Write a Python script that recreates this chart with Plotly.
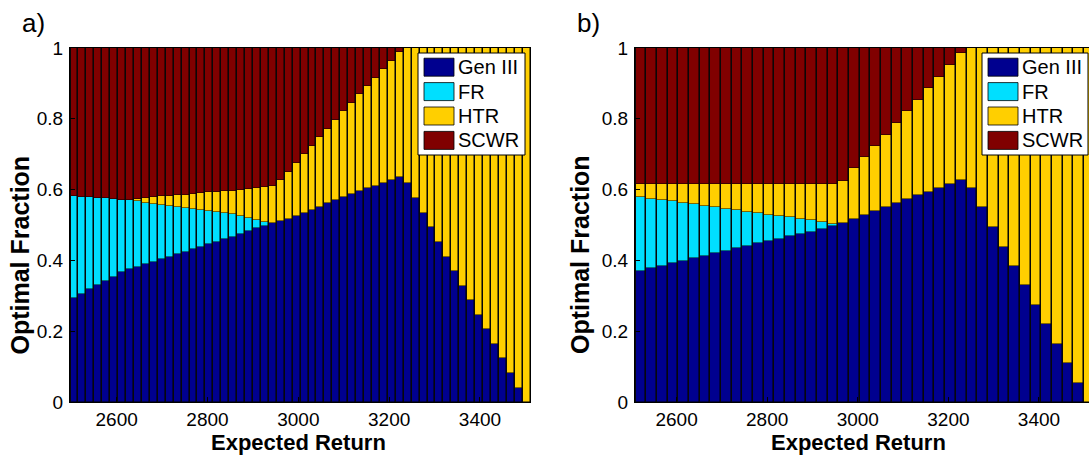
import plotly.graph_objects as go

# ---------------- data ----------------
series_names = ["Gen III", "FR", "HTR", "SCWR"]

returns_a = [2506.0, 2523.5, 2540.9, 2558.4, 2575.9, 2593.4, 2610.8, 2628.3, 2645.8, 2663.2,
             2680.7, 2698.2, 2715.6, 2733.1, 2750.6, 2768.1, 2785.5, 2803.0, 2820.5, 2837.9,
             2855.4, 2872.9, 2890.3, 2907.8, 2925.3, 2942.8, 2960.2, 2977.7, 2995.2, 3012.6,
             3030.1, 3047.6, 3065.0, 3082.5, 3100.0, 3117.5, 3134.9, 3152.4, 3169.9, 3187.3,
             3204.8, 3222.3, 3239.7, 3257.2, 3274.7, 3292.2, 3309.6, 3327.1, 3344.6, 3362.0,
             3379.5, 3397.0, 3414.4, 3431.9, 3449.4, 3466.9, 3484.3, 3501.8]

gen_a = [0.293, 0.305, 0.318, 0.331, 0.343, 0.354, 0.366, 0.376, 0.382, 0.389,
         0.396, 0.403, 0.411, 0.417, 0.425, 0.432, 0.439, 0.446, 0.453, 0.461,
         0.467, 0.475, 0.483, 0.491, 0.497, 0.505, 0.511, 0.518, 0.526, 0.535,
         0.543, 0.552, 0.561, 0.570, 0.579, 0.588, 0.596, 0.604, 0.611, 0.620,
         0.627, 0.637, 0.618, 0.575, 0.535, 0.493, 0.452, 0.410, 0.370, 0.329,
         0.287, 0.246, 0.205, 0.164, 0.123, 0.081, 0.040, 0.000]

fr_a = [0.289, 0.275, 0.260, 0.246, 0.232, 0.219, 0.206, 0.194, 0.185, 0.174,
        0.164, 0.154, 0.143, 0.135, 0.124, 0.114, 0.104, 0.094, 0.084, 0.073,
        0.064, 0.051, 0.036, 0.023, 0.012, 0, 0, 0, 0, 0,
        0, 0, 0, 0, 0, 0, 0, 0, 0, 0,
        0, 0, 0, 0, 0, 0, 0, 0, 0, 0,
        0, 0, 0, 0, 0, 0, 0, 0]

htr_a = [0, 0, 0, 0, 0, 0, 0, 0, 0.007, 0.014,
         0.019, 0.024, 0.029, 0.032, 0.037, 0.042, 0.047, 0.052, 0.056, 0.061,
         0.066, 0.074, 0.083, 0.091, 0.099, 0.105, 0.116, 0.133, 0.150, 0.165,
         0.180, 0.196, 0.211, 0.227, 0.242, 0.256, 0.273, 0.288, 0.304, 0.320,
         0.337, 0.351, 0.382, 0.425, 0.465, 0.507, 0.548, 0.590, 0.630, 0.671,
         0.713, 0.754, 0.795, 0.836, 0.877, 0.919, 0.960, 1.000]

scwr_a = [0.418, 0.420, 0.422, 0.423, 0.425, 0.427, 0.428, 0.430, 0.426, 0.423,
          0.421, 0.419, 0.417, 0.416, 0.414, 0.412, 0.410, 0.408, 0.407, 0.405,
          0.403, 0.400, 0.398, 0.395, 0.392, 0.390, 0.373, 0.349, 0.324, 0.300,
          0.277, 0.252, 0.228, 0.203, 0.179, 0.156, 0.131, 0.108, 0.085, 0.060,
          0.036, 0.012, 0, 0, 0, 0, 0, 0, 0, 0,
          0, 0, 0, 0, 0, 0, 0, 0]

returns_b = [2520.0, 2543.6, 2567.1, 2590.7, 2614.3, 2637.9, 2661.4, 2685.0, 2708.6, 2732.1,
             2755.7, 2779.3, 2802.9, 2826.4, 2850.0, 2873.6, 2897.1, 2920.7, 2944.3, 2967.9,
             2991.4, 3015.0, 3038.6, 3062.1, 3085.7, 3109.3, 3132.9, 3156.4, 3180.0, 3203.6,
             3227.1, 3250.7, 3274.3, 3297.9, 3321.4, 3345.0, 3368.6, 3392.1, 3415.7, 3439.3,
             3462.9, 3486.4, 3510.0]

gen_b = [0.371, 0.378, 0.384, 0.392, 0.399, 0.406, 0.412, 0.420, 0.427, 0.434,
         0.441, 0.448, 0.455, 0.461, 0.469, 0.476, 0.481, 0.488, 0.496, 0.505,
         0.516, 0.527, 0.539, 0.550, 0.561, 0.573, 0.584, 0.594, 0.605, 0.616,
         0.627, 0.604, 0.550, 0.493, 0.439, 0.384, 0.330, 0.274, 0.219, 0.164,
         0.109, 0.053, 0.000]

fr_b = [0.209, 0.196, 0.187, 0.175, 0.163, 0.152, 0.142, 0.131, 0.119, 0.107,
        0.096, 0.086, 0.074, 0.064, 0.053, 0.041, 0.033, 0.020, 0.008, 0,
        0, 0, 0, 0, 0, 0, 0, 0, 0, 0,
        0, 0, 0, 0, 0, 0, 0, 0, 0, 0,
        0, 0, 0]

htr_b = [0.036, 0.042, 0.045, 0.049, 0.054, 0.058, 0.062, 0.065, 0.070, 0.075,
         0.079, 0.082, 0.087, 0.091, 0.094, 0.099, 0.102, 0.108, 0.112, 0.120,
         0.144, 0.164, 0.184, 0.205, 0.228, 0.248, 0.269, 0.292, 0.314, 0.336,
         0.358, 0.396, 0.450, 0.507, 0.561, 0.616, 0.670, 0.726, 0.781, 0.836,
         0.891, 0.947, 1.000]

scwr_b = [0.384, 0.384, 0.384, 0.384, 0.384, 0.384, 0.384, 0.384, 0.384, 0.384,
          0.384, 0.384, 0.384, 0.384, 0.384, 0.384, 0.384, 0.384, 0.384, 0.375,
          0.340, 0.309, 0.277, 0.245, 0.211, 0.179, 0.147, 0.114, 0.081, 0.048,
          0.015, 0, 0, 0, 0, 0, 0, 0, 0, 0,
          0, 0, 0]

x_ticks = [2600, 2800, 3000, 3200, 3400]
y_ticks = [0, 0.2, 0.4, 0.6, 0.8, 1]
y_tick_text = ["0", "0.2", "0.4", "0.6", "0.8", "1"]

# ---------------- styling ----------------
W, H = 1089, 456
colors = ["#00008F", "#00DFFF", "#FFCF00", "#800000"]
FONT = "Liberation Sans, Arial, Helvetica, sans-serif"

range_a = [2497.2, 3510.2]
range_b = [2508.2, 3510.4]
pxa = [70, 530]
pxb = [635, 1089]

def px(x):
    return x / W

def py(y):
    return 1 - y / H

def bar_width(xs, rng, pix):
    # bar width leaving a one-pixel dark separator between neighbours
    step = (xs[-1] - xs[0]) / (len(xs) - 1)
    units_per_px = (rng[1] - rng[0]) / (pix[1] - pix[0])
    return step - units_per_px

wa = bar_width(returns_a, range_a, pxa)
wb = bar_width(returns_b, range_b, pxb)

fig = go.Figure()

for vals, name, col in zip([gen_a, fr_a, htr_a, scwr_a], series_names, colors):
    fig.add_trace(go.Bar(x=returns_a, y=vals, name=name, showlegend=False, width=wa,
                         marker=dict(color=col, line=dict(color="black", width=0.5)),
                         xaxis="x", yaxis="y"))
for vals, name, col in zip([gen_b, fr_b, htr_b, scwr_b], series_names, colors):
    fig.add_trace(go.Bar(x=returns_b, y=vals, name=name, showlegend=False, width=wb,
                         marker=dict(color=col, line=dict(color="black", width=0.5)),
                         xaxis="x2", yaxis="y2"))

y_dom = [py(402), py(48)]
axis_common = dict(showline=True, linecolor="black", linewidth=1, mirror=True,
                   ticks="inside", ticklen=5, tickcolor="black", showgrid=False,
                   zeroline=False, automargin=False,
                   tickfont=dict(family=FONT, size=19, color="black"))

fig.update_layout(
    template="none",
    width=W, height=H, margin=dict(l=0, r=0, t=0, b=0, pad=0, autoexpand=False),
    paper_bgcolor="white", plot_bgcolor="#111111",
    barmode="stack", bargap=0,
    xaxis=dict(domain=[px(pxa[0]), px(pxa[1])], range=range_a, tickvals=x_ticks,
               anchor="y", ticklabelstandoff=0, **axis_common),
    yaxis=dict(domain=y_dom, range=[0, 1], tickvals=y_ticks, ticktext=y_tick_text,
               anchor="x", ticklabelstandoff=2, **axis_common),
    xaxis2=dict(domain=[px(pxb[0]), 1.0], range=range_b, tickvals=x_ticks,
                anchor="y2", ticklabelstandoff=0, **axis_common),
    yaxis2=dict(domain=y_dom, range=[0, 1], tickvals=y_ticks, ticktext=y_tick_text,
                anchor="x2", ticklabelstandoff=2, **axis_common),
)

shapes = []
annotations = []

def add_legend(x0, x1):
    shapes.append(dict(type="rect", xref="paper", yref="paper",
                       x0=px(x0), x1=px(x1), y0=py(155), y1=py(53),
                       fillcolor="white", line=dict(color="black", width=1), layer="above"))
    row_centers = [67.2, 91.6, 116.0, 140.4]
    for name, col, yc in zip(series_names, colors, row_centers):
        shapes.append(dict(type="rect", xref="paper", yref="paper",
                           x0=px(x0 + 6), x1=px(x0 + 36), y0=py(yc + 9), y1=py(yc - 9),
                           fillcolor=col, line=dict(color="black", width=0.8), layer="above"))
        annotations.append(dict(xref="paper", yref="paper", x=px(x0 + 38), y=py(yc),
                                xanchor="left", yanchor="middle", showarrow=False,
                                text=name, font=dict(family=FONT, size=20, color="black")))

add_legend(418, 525)
add_legend(982, 1088)

def add_titles(xc, ylab_x, letter, letter_x):
    annotations.append(dict(xref="paper", yref="paper", x=px(xc), y=py(442),
                            xanchor="center", yanchor="middle", showarrow=False,
                            text="<b>Expected Return</b>",
                            font=dict(family=FONT, size=22, color="black")))
    annotations.append(dict(xref="paper", yref="paper", x=px(ylab_x), y=py(255),
                            xanchor="center", yanchor="middle", showarrow=False,
                            textangle=-90, text="<b>Optimal Fraction</b>",
                            font=dict(family=FONT, size=25, color="black")))
    annotations.append(dict(xref="paper", yref="paper", x=px(letter_x), y=py(23),
                            xanchor="left", yanchor="middle", showarrow=False,
                            text=letter, font=dict(family=FONT, size=26, color="black")))

add_titles(298, 19.5, "a)", 20)
add_titles(858, 580, "b)", 575)

fig.update_layout(shapes=shapes, annotations=annotations)

fig.write_html("out.html")
